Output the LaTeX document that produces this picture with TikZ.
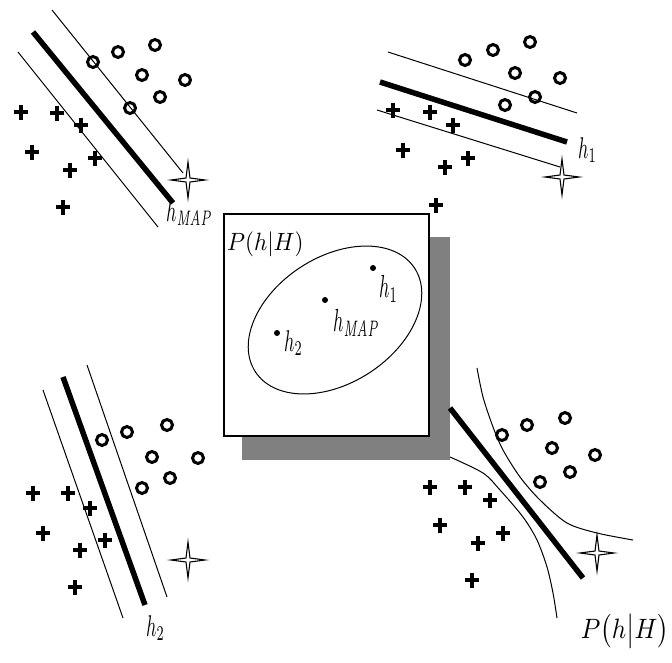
\documentclass[tikz,border=0pt]{standalone}
\definecolor{shadowgray}{RGB}{128,128,128}
\newcommand{\lbl}[3][1.8]{\scalebox{#1}[#2]{$#3$}}
\begin{document}
\begin{tikzpicture}[x=1pt,y=-1pt,
  thinl/.style={line width=1pt},
  thickl/.style={line width=5.5pt},
  circ/.style={circle,draw,line width=3pt,minimum size=11pt,inner sep=0pt},
  hdot/.style={circle,fill,minimum size=6pt,inner sep=0pt},
  lab/.style={inner sep=0pt},
  plusm/.pic={\draw[line width=3.5pt] (-7,0)--(7,0) (0,-7.5)--(0,7.5);},
  starm/.pic={\draw[line width=1.1pt] (0,-18)--(2,-2)--(17,0)--(2,2)--(0,18)--(-2,2)--(-17,0)--(-2,-2)--cycle;}
]
\useasboundingbox (0,0) rectangle (672,662);

% ---------- top-left ----------
\coordinate (tlA1) at (33,32);  \coordinate (tlA2) at (173,203);
\coordinate (tlB1) at (52,10);  \coordinate (tlB2) at (183,173);
\coordinate (tlC1) at (18,52);  \coordinate (tlC2) at (158,227);
\draw[thickl] (tlA1) -- (tlA2);
\draw[thinl] (tlB1) -- (tlB2);
\draw[thinl] (tlC1) -- (tlC2);
\foreach \p [count=\i] in {(93,62),(118,52),(155,45),(142,75),(185,80),(160,97),(130,108)}
  \node[circ] (tlo\i) at \p {};
\foreach \p in {(21,112),(57,113),(81,125),(95,158),(32,152),(70,170),(63,207)}
  \pic at \p {plusm};
\pic at (188,180) {starm};
\node[lab,anchor=north west] (tllab) at (166,200) {\lbl{3}{h_{\mathit{MAP}}}};

% ---------- top-right ----------
\coordinate (trA1) at (380,82);  \coordinate (trA2) at (567,142);
\coordinate (trB1) at (388,52);  \coordinate (trB2) at (577,113);
\coordinate (trC1) at (377,110); \coordinate (trC2) at (560,167);
\draw[thickl] (trA1) -- (trA2);
\draw[thinl] (trB1) -- (trB2);
\draw[thinl] (trC1) -- (trC2);
\foreach \p [count=\i] in {(465,60),(493,50),(530,42),(515,73),(560,78),(535,97),(505,105)}
  \node[circ] (tro\i) at \p {};
\foreach \p in {(393,110),(430,112),(453,125),(403,150),(445,167),(468,158),(436,205)}
  \pic at \p {plusm};
\pic at (562,177) {starm};
\node[lab,anchor=north west] (trlab) at (578,137) {\lbl{3}{h_1}};

% ---------- centre box ----------
\fill[shadowgray] (242,237) rectangle (450,460);
\node[draw,fill=white,line width=2pt,minimum width=205pt,minimum height=222pt,
      inner sep=0pt,anchor=north west] (box) at (223,213) {};
\node[lab,anchor=north west] (boxlab) at (227,232) {\lbl[2.3]{2.5}{P(h|H)}};
\draw[thinl,rotate around={33:(335,320)}] (335,320) ellipse [x radius=95, y radius=63];
\node[hdot] (d1) at (373,268) {};
\node[hdot] (dmap) at (325,300) {};
\node[hdot] (d2) at (277,333) {};
\node[lab,anchor=north west] (l1) at (379,275) {\lbl{3.2}{h_1}};
\node[lab,anchor=north west] (lmap) at (333,309) {\lbl{3.2}{h_{\mathit{MAP}}}};
\node[lab,anchor=north west] (l2) at (284,330) {\lbl{3}{h_2}};

% ---------- bottom-left ----------
\coordinate (blA1) at (63,377);  \coordinate (blA2) at (145,605);
\coordinate (blB1) at (43,390);  \coordinate (blB2) at (123,618);
\coordinate (blC1) at (87,365);  \coordinate (blC2) at (167,597);
\draw[thickl] (blA1) -- (blA2);
\draw[thinl] (blB1) -- (blB2);
\draw[thinl] (blC1) -- (blC2);
\foreach \p [count=\i] in {(102,440),(127,432),(167,425),(152,457),(198,458),(170,478),(142,488)}
  \node[circ] (blo\i) at \p {};
\foreach \p in {(33,493),(68,493),(90,508),(43,533),(80,550),(105,540),(75,587)}
  \pic at \p {plusm};
\pic at (188,560) {starm};
\node[lab,anchor=north west] (bllab) at (146,615) {\lbl{3}{h_2}};

% ---------- bottom-right ----------
\coordinate (brA1) at (450,408); \coordinate (brA2) at (583,578);
\draw[thickl] (brA1) -- (brA2);
\draw[thinl] plot[smooth] coordinates {(477,368) (483,397) (493,427) (503,450) (520,477) (540,500) (567,523) (597,533) (633,540)};
\draw[thinl] plot[smooth] coordinates {(450,457) (483,473) (500,490) (523,517) (537,540) (547,567) (553,593) (557,618)};
\foreach \p [count=\i] in {(502,435),(527,425),(565,418),(552,448),(595,455),(570,472),(540,482)}
  \node[circ] (bro\i) at \p {};
\foreach \p in {(430,487),(465,487),(490,500),(440,525),(478,543),(503,533),(472,580)}
  \pic at \p {plusm};
\pic at (597,553) {starm};
\node[lab,anchor=north east] (brlab) at (669,614) {\lbl[2.5]{2.8}{P\bigl(h\big|H\bigr)}};
\end{tikzpicture}
\end{document}
